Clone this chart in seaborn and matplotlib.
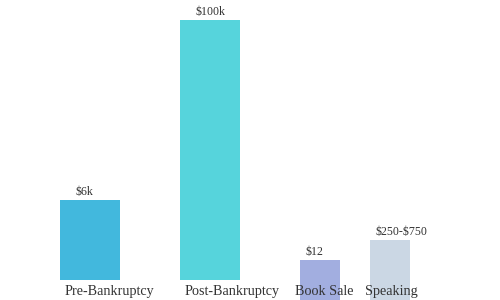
import matplotlib
matplotlib.use("Agg")
import matplotlib.pyplot as plt
import seaborn as sns

categories = ["Pre-Bankruptcy", "Post-Bankruptcy", "Book Sale", "Speaking"]
value_labels = ["$6k", "$100k", "$12", "$250-$750"]
heights = [80, 260, 40, 60]          # visual bar heights as drawn
bottoms = [20, 20, 0, 0]
colors = ["#42B8DD", "#56D4DC", "#A2AEE0", "#CBD7E4"]

# layout (pixel units of a 500x300 canvas)
lefts = [60, 180, 300, 370]
widths = [60, 60, 40, 40]
val_x = [75, 195, 305, 375]
cat_x = [65, 185, 295, 365]

sns.set_theme(style="white")
plt.rcParams["font.family"] = ["Liberation Serif", "DejaVu Serif"]
plt.rcParams["text.parse_math"] = False

fig = plt.figure(figsize=(5, 3), dpi=100)
ax = fig.add_axes([0, 0, 1, 1])
ax.set_xlim(0, 500)
ax.set_ylim(0, 300)
ax.axis("off")

ax.bar(lefts, heights, width=widths, bottom=bottoms, align="edge",
       color=colors, linewidth=0)

for i in range(len(categories)):
    top = bottoms[i] + heights[i]
    ax.text(val_x[i], top + 5, value_labels[i], ha="left", va="baseline",
            fontsize=8.6, color="#333333", parse_math=False)
    ax.text(cat_x[i], 5, categories[i], ha="left", va="baseline",
            fontsize=10.2, color="#333333", parse_math=False)

fig.savefig("out.png", dpi=100)
